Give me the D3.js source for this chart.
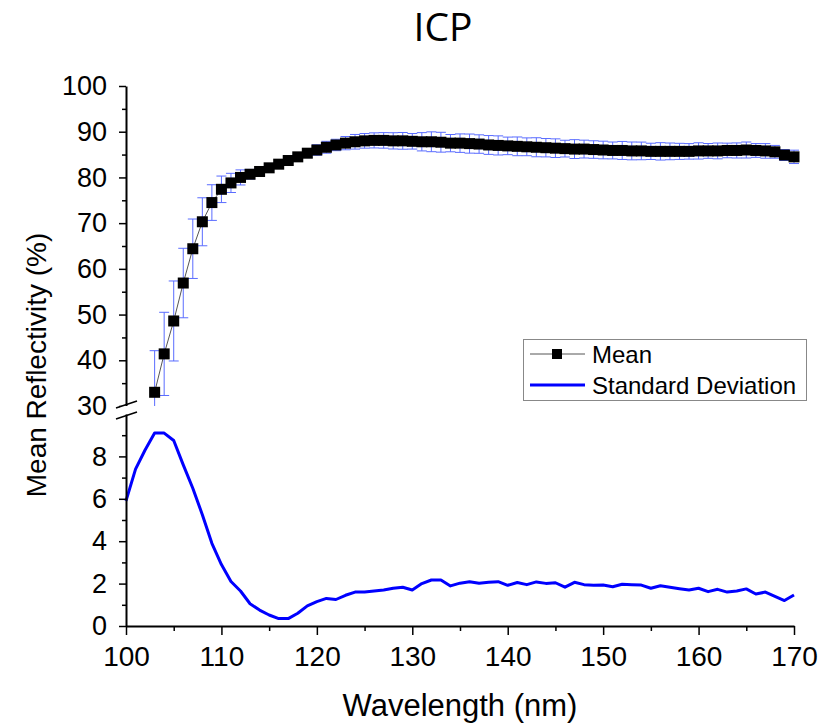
<!DOCTYPE html>
<html>
<head>
<meta charset="utf-8">
<script src="https://cdn.jsdelivr.net/npm/d3@7"></script>
<style>
  body { margin: 0; background: #fff; }
  text { font-family: "Liberation Sans", Arial, sans-serif; fill: #000; }
</style>
</head>
<body>
<div id="chart"></div>
<script>
// standard deviation, one value per nm
const sdWave = [100,101,102,103,104,105,106,107,108,109,
    110,111,112,113,114,115,116,117,118,119,
    120,121,122,123,124,125,126,127,128,129,
    130,131,132,133,134,135,136,137,138,139,
    140,141,142,143,144,145,146,147,148,149,
    150,151,152,153,154,155,156,157,158,159,
    160,161,162,163,164,165,166,167,168,169,170]
const sdValues = [5.9,7.4,8.3,9.1,9.1,8.75,7.6,6.5,5.25,3.9,
    2.9,2.1,1.65,1.05,0.75,0.52,0.35,0.35,0.6,0.95,
    1.15,1.3,1.25,1.45,1.6,1.6,1.65,1.7,1.78,1.83,
    1.7,2.0,2.17,2.17,1.89,2.02,2.09,2.02,2.06,2.09,
    1.92,2.05,1.95,2.08,2.01,2.04,1.83,2.06,1.95,1.92,
    1.93,1.85,1.97,1.95,1.93,1.78,1.9,1.83,1.76,1.7,
    1.78,1.62,1.73,1.6,1.65,1.75,1.51,1.6,1.4,1.2,1.46]

// mean reflectivity (only the part above the axis break is visible)
const meanWave = [103,104,105,106,107,108,109,
    110,111,112,113,114,115,116,117,118,119,
    120,121,122,123,124,125,126,127,128,129,
    130,131,132,133,134,135,136,137,138,139,
    140,141,142,143,144,145,146,147,148,149,
    150,151,152,153,154,155,156,157,158,159,
    160,161,162,163,164,165,166,167,168,169,170]
const meanValues = [33,41.4,48.6,56.9,64.4,70.3,74.5,
    77.4,78.8,80.0,80.7,81.3,82.1,82.9,83.7,84.5,85.3,
    86.0,86.6,87.1,87.5,87.8,88.0,88.1,88.1,88.0,88.0,
    87.9,87.8,87.8,87.7,87.5,87.5,87.4,87.3,87.1,87.0,
    86.9,86.8,86.7,86.6,86.5,86.4,86.3,86.2,86.2,86.1,
    86.0,85.9,85.9,85.8,85.8,85.7,85.7,85.7,85.7,85.7,
    85.8,85.8,85.8,85.9,85.9,86.0,85.9,85.8,85.6,84.9,84.5]

const xTicks = [100,110,120,130,140,150,160,170]
const xMinor = [105,115,125,135,145,155,165]
const yTopTicks = [30,40,50,60,70,80,90,100]
const yTopMinor = [35,45,55,65,75,85,95]
const yBotTicks = [0,2,4,6,8]
const yBotMinor = [1,3,5,7,9]

const width = 821, height = 725

const svg = d3.select('#chart').append('svg')
    .attr('width', width)
    .attr('height', height)

const x = d3.scaleLinear().domain([100, 170]).range([126, 794])
const yTop = d3.scaleLinear().domain([30, 100]).range([406, 86])
const yBot = d3.scaleLinear().domain([0, 10]).range([626, 414])

const sdByWave = new Map(sdWave.map((w, i) => [w, sdValues[i]]))
const meanData = meanWave.map((w, i) => ({ w: w, m: meanValues[i], sd: sdByWave.get(w) }))
const sdData = sdWave.map((w, i) => ({ w: w, v: sdValues[i] }))

// clip for top panel
svg.append('clipPath').attr('id', 'clipTop')
    .append('rect').attr('x', 126).attr('y', 80).attr('width', 680).attr('height', 326)

const topPanel = svg.append('g').attr('clip-path', 'url(#clipTop)')

// error bars
const bars = topPanel.selectAll('.err').data(meanData).enter().append('g')
    .attr('stroke', '#5a6cff').attr('stroke-width', 1).attr('fill', 'none')
bars.append('line')
    .attr('x1', d => x(d.w)).attr('x2', d => x(d.w))
    .attr('y1', d => yTop(d.m - d.sd)).attr('y2', d => yTop(d.m + d.sd))
bars.append('line')
    .attr('x1', d => x(d.w) - 5).attr('x2', d => x(d.w) + 5)
    .attr('y1', d => yTop(d.m + d.sd)).attr('y2', d => yTop(d.m + d.sd))
bars.append('line')
    .attr('x1', d => x(d.w) - 5).attr('x2', d => x(d.w) + 5)
    .attr('y1', d => yTop(d.m - d.sd)).attr('y2', d => yTop(d.m - d.sd))

// mean line + squares
topPanel.append('path').datum(meanData)
    .attr('fill', 'none').attr('stroke', '#555').attr('stroke-width', 1)
    .attr('d', d3.line().x(d => x(d.w)).y(d => yTop(d.m)))

topPanel.selectAll('.sq').data(meanData).enter().append('rect')
    .attr('x', d => x(d.w) - 5.5).attr('y', d => yTop(d.m) - 5.5)
    .attr('width', 11).attr('height', 11)
    .attr('fill', '#000')

// std dev line
svg.append('path').datum(sdData)
    .attr('fill', 'none').attr('stroke', '#0000ff').attr('stroke-width', 3)
    .attr('stroke-linejoin', 'round')
    .attr('d', d3.line().x(d => x(d.w)).y(d => yBot(d.v)))

// axes
function styleAxis(size) {
    return g => {
        g.select('.domain').attr('stroke-width', 2)
        g.selectAll('.tick line').attr('stroke-width', 1.5)
        g.selectAll('.tick text').style('font-size', size + 'px').attr('fill', '#000')
            .style('font-family', '"Liberation Sans", Arial, sans-serif')
    }
}

svg.append('g').attr('transform', 'translate(0,626)')
    .call(d3.axisBottom(x).tickValues(xTicks).tickSize(9).tickSizeOuter(0).tickPadding(11))
    .call(styleAxis(28))
svg.append('g').attr('transform', 'translate(0,626)')
    .call(d3.axisBottom(x).tickValues(xMinor).tickSize(5).tickFormat(''))
    .call(g => g.select('.domain').remove())
    .call(styleAxis(28))

svg.append('g').attr('transform', 'translate(126,0)')
    .call(d3.axisLeft(yTop).tickValues(yTopTicks).tickSize(7).tickSizeOuter(0).tickPadding(12))
    .call(styleAxis(27))
svg.append('g').attr('transform', 'translate(126,0)')
    .call(d3.axisLeft(yTop).tickValues(yTopMinor).tickSize(4).tickFormat(''))
    .call(g => g.select('.domain').remove())
    .call(styleAxis(27))

svg.append('g').attr('transform', 'translate(126,0)')
    .call(d3.axisLeft(yBot).tickValues(yBotTicks).tickSize(7).tickSizeOuter(0).tickPadding(12))
    .call(styleAxis(27))
svg.append('g').attr('transform', 'translate(126,0)')
    .call(d3.axisLeft(yBot).tickValues(yBotMinor).tickSize(4).tickFormat(''))
    .call(g => g.select('.domain').remove())
    .call(styleAxis(27))

// axis break marks
svg.append('rect').attr('x', 120).attr('y', 406).attr('width', 12).attr('height', 8).attr('fill', '#fff')
svg.append('line').attr('x1', 116).attr('y1', 408).attr('x2', 137).attr('y2', 401)
    .attr('stroke', '#000').attr('stroke-width', 1.5)
svg.append('line').attr('x1', 116).attr('y1', 419).attr('x2', 137).attr('y2', 412)
    .attr('stroke', '#000').attr('stroke-width', 1.5)

// titles
svg.append('text').attr('x', 443).attr('y', 41)
    .attr('text-anchor', 'middle')
    .style('font-family', '"Open Sans", sans-serif')
    .style('font-size', '39px')
    .text('ICP')

svg.append('text').attr('x', 460).attr('y', 716)
    .attr('text-anchor', 'middle')
    .style('font-size', '31px')
    .text('Wavelength (nm)')

svg.append('text')
    .attr('transform', 'translate(46,365) rotate(-90)')
    .attr('text-anchor', 'middle')
    .style('font-size', '28px')
    .text('Mean Reflectivity (%)')

// legend
const legend = svg.append('g')
legend.append('rect').attr('x', 523.5).attr('y', 339.5).attr('width', 283).attr('height', 61)
    .attr('fill', '#fff').attr('stroke', '#888').attr('stroke-width', 1)
legend.append('line').attr('x1', 530).attr('x2', 585).attr('y1', 354).attr('y2', 354)
    .attr('stroke', '#555').attr('stroke-width', 1)
legend.append('rect').attr('x', 552).attr('y', 349).attr('width', 10).attr('height', 10).attr('fill', '#000')
legend.append('text').attr('x', 592).attr('y', 363).style('font-size', '24px').text('Mean')
legend.append('line').attr('x1', 530).attr('x2', 585).attr('y1', 385).attr('y2', 385)
    .attr('stroke', '#0000ff').attr('stroke-width', 3)
legend.append('text').attr('x', 592).attr('y', 394).style('font-size', '24px').text('Standard Deviation')
</script>
</body>
</html>
